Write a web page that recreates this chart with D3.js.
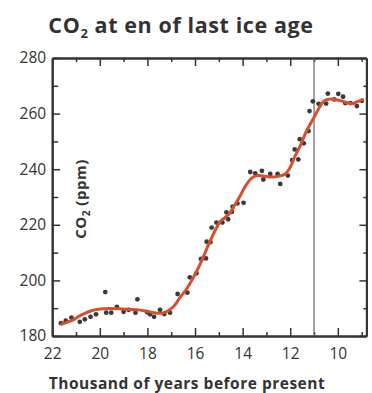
<!DOCTYPE html>
<html><head><meta charset="utf-8">
<script src="https://cdn.jsdelivr.net/npm/d3@7"></script>
<style>
html,body{margin:0;padding:0;background:#fff;}
svg{display:block;font-family:"Open Sans",sans-serif;}
</style></head>
<body><svg id="c" width="372" height="393"></svg>
<script>
// Data: thousand years before present, CO2 ppm
const obsKyr = [21.63,21.43,21.19,20.84,20.63,20.39,20.16,19.77,19.73,19.52,19.28,19.0,18.79,18.5,18.42,18.02,17.89,17.72,17.47,17.29,17.05,16.73,16.32,16.22,15.94,15.75,15.54,15.51,15.35,15.3,15.1,14.85,14.68,14.61,14.45,14.42,14.22,13.96,13.68,13.47,13.19,13.13,12.84,12.53,12.42,12.1,11.92,11.81,11.66,11.6,11.43,11.23,11.19,11.05,10.81,10.49,10.42,10.15,9.98,9.78,9.69,9.47,9.2,8.99];
const obsPpm = [184.6,185.5,186.6,185.1,186.0,186.9,187.8,195.8,188.4,188.4,190.5,188.7,189.4,188.4,193.2,188.6,187.8,186.9,189.4,187.9,188.4,195.1,195.6,201.1,202.6,207.7,207.9,213.9,213.8,219.0,220.8,220.8,224.5,222.0,224.7,226.5,227.7,227.9,239.0,238.5,239.4,236.3,238.3,238.3,234.7,237.7,243.3,247.1,243.5,250.8,249.3,253.7,260.9,264.4,263.5,263.6,267.2,265.1,267.1,266.1,263.8,263.8,262.7,264.6];
const fitKyr = [21.6,21.19,20.79,20.39,19.98,19.58,19.18,18.77,18.37,17.97,17.66,17.36,17.11,16.86,16.66,16.35,16.05,15.75,15.45,15.14,14.94,14.74,14.54,14.34,14.13,13.93,13.73,13.53,13.33,13.02,12.72,12.42,12.21,12.01,11.81,11.6,11.3,10.99,10.79,10.59,10.38,10.08,9.88,9.57,9.37,9.17,8.96];
const fitPpm = [184.3,185.5,187.5,189.0,189.7,189.9,189.8,189.6,189.4,188.8,188.3,188.3,189.2,191.0,193.5,197.0,201.3,206.5,212.5,218.2,221.2,222.6,224.2,227.0,230.0,233.2,235.8,237.3,237.7,237.4,237.2,237.6,238.3,240.5,244.5,248.0,254.0,258.8,262.0,264.5,265.2,265.0,264.6,263.8,263.6,264.3,265.0];
const xTickLabels = [22,20,18,16,14,12,10];
const yTickLabels = [180,200,220,240,260,280];
const markerKyr = 11;

const svg = d3.select("#c");
const ink = "#333";
const x = d3.scaleLinear().domain([22, 8.8]).range([52.2, 366.4]);
const y = d3.scaleLinear().domain([180, 280]).range([336, 58]);

// Title
const t = svg.append("text").attr("x", 181).attr("y", 33).attr("text-anchor","middle")
  .attr("font-size", 21.5).attr("font-weight", 700).attr("fill", ink).attr("letter-spacing", 0.6);
t.append("tspan").text("CO");
t.append("tspan").text("2").attr("font-size", 13).attr("dy", 5);
t.append("tspan").text(" at en of last ice age").attr("dy", -5);

function styleAxis(g){
  g.selectAll("path.domain").attr("stroke", ink).attr("stroke-width", 2);
  g.selectAll(".tick line").attr("stroke", ink).attr("stroke-width", 1.5);
  g.selectAll(".tick text").attr("fill", ink).attr("font-size", 15.5).attr("font-family", "Open Sans, sans-serif");
}
const minorX = d3.range(21, 8.5, -1).filter(v => v % 2 === 1);
const minorY = [190,210,230,250,270];

// Bottom axis
svg.append("g").attr("transform", "translate(0,336)")
  .call(d3.axisBottom(x).tickValues(xTickLabels).tickSize(-8).tickSizeOuter(0).tickPadding(12).tickFormat(d3.format("d")))
  .call(styleAxis);
svg.append("g").attr("transform", "translate(0,336)")
  .call(d3.axisBottom(x).tickValues(minorX).tickSize(-4).tickSizeOuter(0).tickFormat(""))
  .call(styleAxis);
// Top axis
svg.append("g").attr("transform", "translate(0,58)")
  .call(d3.axisTop(x).tickValues(d3.range(22, 8.5, -2)).tickSize(-8).tickSizeOuter(0).tickFormat(""))
  .call(styleAxis);
svg.append("g").attr("transform", "translate(0,58)")
  .call(d3.axisTop(x).tickValues(minorX).tickSize(-4).tickSizeOuter(0).tickFormat(""))
  .call(styleAxis);
// Left axis
svg.append("g").attr("transform", "translate(52.2,0)")
  .call(d3.axisLeft(y).tickValues(yTickLabels).tickSize(-8).tickSizeOuter(0).tickPadding(6).tickFormat(d3.format("d")))
  .call(styleAxis);
svg.append("g").attr("transform", "translate(52.2,0)")
  .call(d3.axisLeft(y).tickValues(minorY).tickSize(-6).tickSizeOuter(0).tickFormat(""))
  .call(styleAxis);
// Right axis
svg.append("g").attr("transform", "translate(366.4,0)")
  .call(d3.axisRight(y).tickValues(yTickLabels).tickSize(-7).tickSizeOuter(0).tickFormat(""))
  .call(styleAxis);
svg.append("g").attr("transform", "translate(366.4,0)")
  .call(d3.axisRight(y).tickValues(minorY).tickSize(-3).tickSizeOuter(0).tickFormat(""))
  .call(styleAxis);

// Vertical marker line
svg.append("line").attr("x1", x(markerKyr)).attr("x2", x(markerKyr))
  .attr("y1", y(280)).attr("y2", y(180)).attr("stroke", "#666").attr("stroke-width", 1.2);

// Points
svg.append("g").selectAll("circle").data(obsKyr).join("circle")
  .attr("cx", (d) => x(d)).attr("cy", (d, i) => y(obsPpm[i])).attr("r", 2.4).attr("fill", "#3a3a3a");

// Fit line
const fit = fitKyr.map((d, i) => [d, fitPpm[i]]);
svg.append("path").datum(fit)
  .attr("d", d3.line().x(d => x(d[0])).y(d => y(d[1])).curve(d3.curveCatmullRom.alpha(0.5)))
  .attr("fill", "none").attr("stroke", "#d6502d").attr("stroke-width", 3).attr("stroke-linecap","round").attr("stroke-linejoin","round");

// Y axis label
const yl = svg.append("text").attr("transform", "translate(86,199) rotate(-90)")
  .attr("text-anchor", "middle").attr("font-size", 15).attr("font-weight", 700).attr("fill", ink).attr("letter-spacing", 0.5);
yl.append("tspan").text("CO");
yl.append("tspan").text("2").attr("font-size", 10).attr("dy", 4);
yl.append("tspan").text(" (ppm)").attr("dy", -4);

// X axis label
svg.append("text").attr("x", 187).attr("y", 389).attr("text-anchor", "middle")
  .attr("font-size", 15.5).attr("font-weight", 700).attr("fill", ink).attr("letter-spacing", 0.5).text("Thousand of years before present");
</script></body></html>
